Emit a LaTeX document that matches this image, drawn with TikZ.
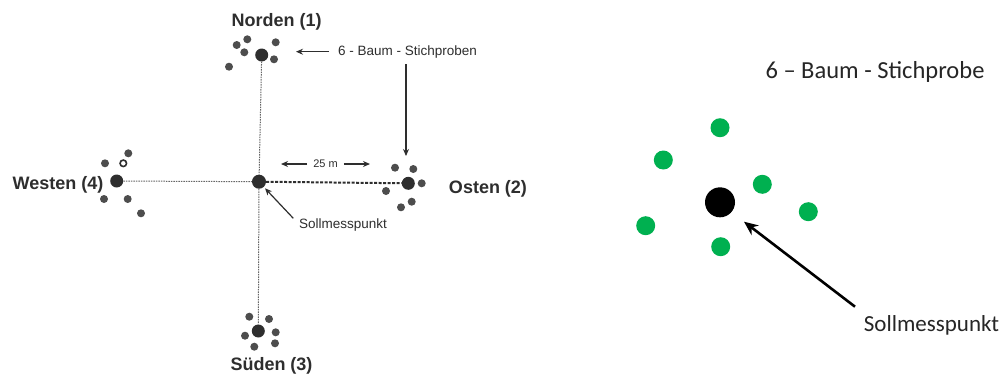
\documentclass[tikz,border=0pt]{standalone}
\usepackage{fontspec}
\setmainfont{Liberation Sans}
\newfontfamily\carl{Carlito}
\usetikzlibrary{arrows.meta}
\definecolor{offgreen}{HTML}{00B050}
\definecolor{ink}{HTML}{2E2E2E}
\begin{document}
\begin{tikzpicture}[x=1pt,y=-1pt,
  bigdot/.style={circle,fill=ink,inner sep=0pt,minimum size=13pt},
  cdot/.style={circle,fill=ink,inner sep=0pt,minimum size=14pt},
  smalldot/.style={circle,fill=ink!85,inner sep=0pt,minimum size=8pt},
  ringdot/.style={circle,draw=ink,line width=1.6pt,inner sep=0pt,minimum size=6.5pt},
  gdot/.style={circle,fill=offgreen,inner sep=0pt,minimum size=19pt},
  kdot/.style={circle,fill=black,inner sep=0pt,minimum size=30pt},
  biglabel/.style={font=\fontsize{18}{20}\selectfont\bfseries,text=ink,inner sep=0pt},
  smalllabel/.style={font=\fontsize{13.5}{15}\selectfont,text=ink,inner sep=0pt},
  vline/.style={gray!80!black,line width=1pt,dash pattern=on 1.5pt off 1pt},
  hline/.style={gray!80!black,line width=1pt,dash pattern=on 1.5pt off 1pt},
  eline/.style={ink,line width=2pt,dash pattern=on 3pt off 1.5pt},
  sarr/.style={ink,line width=1.2pt,-{Stealth[length=7pt,width=6pt]}},
  barr/.style={black,line width=2.6pt,-{Stealth[length=14pt,width=12pt]}},
  rlabel/.style={font=\carl\fontsize{23}{26}\selectfont,text=black!85,inner sep=0pt},
  rtitle/.style={font=\carl\fontsize{24.5}{28}\selectfont,text=black!85,inner sep=0pt}]
\useasboundingbox (0,0) rectangle (1001,376);
\fill[white] (0,0) rectangle (1001,376);

% ---------- left: cross of measuring points ----------
\node[cdot] (C) at (259,181.7) {};
\node[bigdot] (N) at (261.7,55) {};
\node[bigdot] (W) at (116.7,181) {};
\node[bigdot] (E) at (408.3,183.3) {};
\node[bigdot] (S) at (258.3,331) {};

\draw[vline] (N) -- (C);
\draw[vline] (C) -- (S);
\draw[hline] (W) -- (C);
\draw[eline] (C) -- (E);

% north trees
\node[smalldot] (n1) at (247.3,39.3) {};
\node[smalldot] (n2) at (236.7,45) {};
\node[smalldot] (n3) at (244.3,52.3) {};
\node[smalldot] (n4) at (275.7,42.3) {};
\node[smalldot] (n5) at (274,59.3) {};
\node[smalldot] (n6) at (229,66.7) {};
% west trees
\node[smalldot] (w1) at (128.3,153.3) {};
\node[smalldot] (w2) at (105,163.3) {};
\node[ringdot] (w3) at (123.3,163.3) {};
\node[smalldot] (w4) at (104,199) {};
\node[smalldot] (w5) at (127.7,199) {};
\node[smalldot] (w6) at (141,213.3) {};
% east trees
\node[smalldot] (e1) at (395,167.7) {};
\node[smalldot] (e2) at (413.3,169) {};
\node[smalldot] (e3) at (421.7,183.3) {};
\node[smalldot] (e4) at (386,191) {};
\node[smalldot] (e5) at (411.7,201.7) {};
\node[smalldot] (e6) at (401,207.3) {};
% south trees
\node[smalldot] (s1) at (249.3,316.7) {};
\node[smalldot] (s2) at (269,319) {};
\node[smalldot] (s3) at (245,335.7) {};
\node[smalldot] (s4) at (275.7,332.3) {};
\node[smalldot] (s5) at (275,343.3) {};
\node[smalldot] (s6) at (254.3,346.7) {};

% labels
\node[biglabel] (lN) at (276.7,22) {Norden (1)};
\node[biglabel] (lW) at (58,185) {Westen (4)};
\node[biglabel] (lE) at (488,189) {Osten (2)};
\node[biglabel] (lS) at (271.5,365.5) {Süden (3)};

\node[smalllabel,anchor=west] (stp) at (338,51.7) {6 - Baum - Stichproben};
\coordinate (stpN) at (296,51.7);
\draw[sarr] (stp.west) ++(-9,0) coordinate (stpA) -- (stpN);
\coordinate (stpB) at (406,64);
\coordinate (stpE) at (406,156);
\draw[sarr] (stpB) -- (stpE);

\node[font=\fontsize{11}{13}\selectfont,text=ink,inner sep=0pt] (dist) at (325.5,164) {25 m};
\coordinate (dL) at (281,164);
\coordinate (dR) at (370,164);
\draw[sarr] (dist.west) ++(-6,0) -- (dL);
\draw[sarr] (dist.east) ++(6,0) -- (dR);

\node[smalllabel,anchor=west] (soll) at (299,225) {Sollmesspunkt};
\coordinate (sollT) at (265,188.3);
\draw[sarr] (293.3,218.3) -- (sollT);

% ---------- right: 6-tree sample ----------
\node[rtitle] (title) at (875,72) {6 – Baum - Stichprobe};
\node[kdot] (K) at (720,202.3) {};
\node[gdot] (g1) at (720,127.7) {};
\node[gdot] (g2) at (663.3,160) {};
\node[gdot] (g3) at (762.3,184.3) {};
\node[gdot] (g4) at (808.3,211.7) {};
\node[gdot] (g5) at (645.7,225.7) {};
\node[gdot] (g6) at (720.7,246.7) {};
\node[rlabel] (rsoll) at (931.5,325) {Sollmesspunkt};
\coordinate (rT) at (744,221.7);
\coordinate (rA) at (855,306.7);
\draw[barr] (rA) -- (rT);
\end{tikzpicture}
\end{document}
